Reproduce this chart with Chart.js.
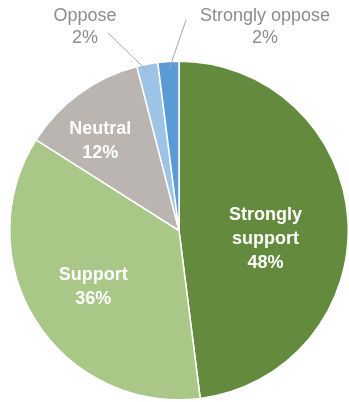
<!DOCTYPE html>
<html>
<head>
    <title>Support pie</title>
    <script src="https://cdn.jsdelivr.net/npm/chart.js@4/dist/chart.umd.min.js"></script>
    <style>
        html, body { margin: 0; padding: 0; background: #fff; }
        #wrap { position: relative; width: 349px; height: 402px; }
    </style>
</head>
<body>
    <div id="wrap">
        <canvas id="pieChart" width="349" height="402"></canvas>
    </div>

    <script>
        const labels = ['Strongly support', 'Support', 'Neutral', 'Oppose', 'Strongly oppose'];
        const shares = [48, 36, 12, 2, 2];
        const colours = ['#648b3d', '#a9c787', '#bab5b0', '#9dc3e6', '#5b9bd5'];
        // label text split into lines
        const labelLines = [['Strongly', 'support'], ['Support'], ['Neutral'], ['Oppose'], ['Strongly oppose']];
        const insideLabel = [true, true, true, false, false];

        // draws slice labels, outside ones with a leader line
        const sliceLabels = {
            id: 'sliceLabels',
            afterDatasetsDraw(chart, args, opts) {
                const ctx = chart.ctx;
                const arcs = chart.getDatasetMeta(0).data;
                ctx.save();
                ctx.textAlign = 'center';
                ctx.textBaseline = 'middle';
                arcs.forEach((arc, i) => {
                    const mid = (arc.startAngle + arc.endAngle) / 2;
                    const lines = labelLines[i].concat([shares[i] + '%']);
                    if (insideLabel[i]) {
                        const r = arc.outerRadius * opts.radial[i];
                        const cx = arc.x + Math.cos(mid) * r + opts.shift[i][0];
                        const cy = arc.y + Math.sin(mid) * r + opts.shift[i][1];
                        ctx.fillStyle = '#ffffff';
                        ctx.font = 'bold 18px "Liberation Sans", Arial, sans-serif';
                        const lh = 24;
                        lines.forEach((t, k) => {
                            ctx.fillText(t, cx, cy + (k - (lines.length - 1) / 2) * lh);
                        });
                    } else {
                        const o = opts.outside[i];
                        const r0 = arc.outerRadius * 0.95;
                        const sx = arc.x + Math.cos(mid) * r0;
                        const sy = arc.y + Math.sin(mid) * r0;
                        ctx.strokeStyle = '#a6a6a6';
                        ctx.lineWidth = 1;
                        ctx.beginPath();
                        ctx.moveTo(sx, sy);
                        ctx.lineTo(o.lx, o.ly);
                        ctx.stroke();
                        ctx.fillStyle = '#8c8c8c';
                        ctx.font = '18px "Liberation Sans", Arial, sans-serif';
                        lines.forEach((t, k) => {
                            ctx.fillText(t, o.tx, o.ty + k * 22);
                        });
                    }
                });
                ctx.restore();
            }
        };

        const ctx = document.getElementById('pieChart').getContext('2d');
        new Chart(ctx, {
            type: 'pie',
            data: {
                labels: labels,
                datasets: [{
                    data: shares,
                    backgroundColor: colours,
                    borderColor: '#ffffff',
                    borderWidth: 1.5
                }]
            },
            options: {
                responsive: false,
                animation: false,
                layout: { padding: { top: 59, left: 9, right: -2, bottom: 0 } },
                plugins: {
                    legend: { display: false },
                    tooltip: { enabled: false },
                    sliceLabels: {
                        radial: [0.5, 0.6, 0.7, 0, 0],
                        shift: [[2, 14], [0, 2], [-9, 6], [0, 0], [0, 0]],
                        outside: [null, null, null,
                            { tx: 85, ty: 16, lx: 108, ly: 33 },
                            { tx: 265, ty: 16, lx: 186, ly: 20 }]
                    }
                }
            },
            plugins: [sliceLabels]
        });
    </script>
</body>
</html>
